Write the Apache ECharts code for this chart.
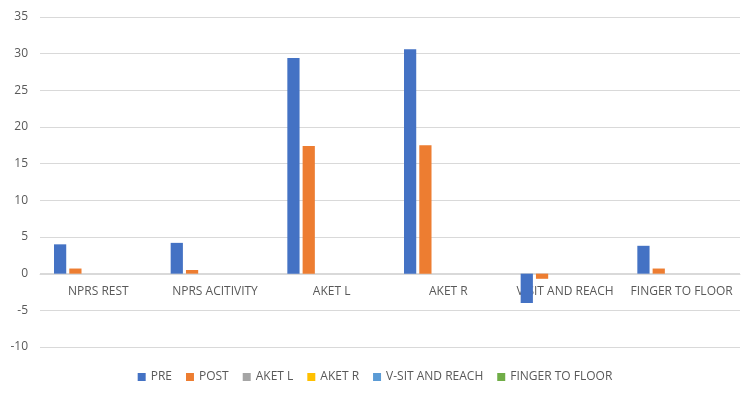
<!DOCTYPE html>
<html>
<head>
<meta charset="utf-8">
<script src="https://cdn.jsdelivr.net/npm/echarts@6/dist/echarts.min.js"></script>
<style>
  html, body { margin: 0; padding: 0; background: #fff; }
  #chart { width: 750px; height: 400px; }
</style>
</head>
<body>
<div id="chart"></div>
<script>
const categories = ['NPRS REST', 'NPRS ACITIVITY', 'AKET L', 'AKET R', 'V-SIT AND REACH', 'FINGER TO FLOOR'];
const pre = [4.0, 4.2, 29.4, 30.6, -4.0, 3.8];
const post = [0.7, 0.5, 17.4, 17.5, -0.7, 0.7];
const aketL = [null, null, null, null, null, null];
const aketR = [null, null, null, null, null, null];
const vSit = [null, null, null, null, null, null];
const fingerToFloor = [null, null, null, null, null, null];

const seriesNames = ['PRE', 'POST', 'AKET L', 'AKET R', 'V-SIT AND REACH', 'FINGER TO FLOOR'];
const seriesData = [pre, post, aketL, aketR, vSit, fingerToFloor];
const colors = ['#4472C4', '#ED7D31', '#A5A5A5', '#FFC000', '#5B9BD5', '#70AD47'];

const chart = echarts.init(document.getElementById('chart'));

// plot is 330px tall for 45 units, so zero sits 10 units (~73px) above the bottom
const option = {
  animation: false,
  color: colors,
  textStyle: { fontFamily: 'Open Sans', color: '#595959' },
  grid: { left: 40, right: 10, top: 17, bottom: 53 },
  legend: {
    bottom: 12,
    left: 'center',
    itemWidth: 8,
    itemHeight: 8,
    itemGap: 14,
    icon: 'rect',
    textStyle: { fontSize: 12, color: '#595959', fontFamily: 'Open Sans' },
    data: seriesNames
  },
  xAxis: {
    type: 'category',
    data: categories,
    offset: -73,
    axisLine: { onZero: false, lineStyle: { color: '#d9d9d9' } },
    axisTick: { show: false },
    axisLabel: { color: '#595959', fontSize: 12, margin: 12, interval: 0 }
  },
  yAxis: {
    type: 'value',
    min: -10,
    max: 35,
    interval: 5,
    axisLine: { show: false },
    axisTick: { show: false },
    axisLabel: { color: '#595959', fontSize: 12, margin: 12 },
    splitLine: { lineStyle: { color: '#d9d9d9' } }
  },
  series: seriesNames.map((name, i) => ({
    name: name,
    type: 'bar',
    data: seriesData[i],
    barGap: '25%',
    barCategoryGap: '24%'
  }))
};

chart.setOption(option);
</script>
</body>
</html>
